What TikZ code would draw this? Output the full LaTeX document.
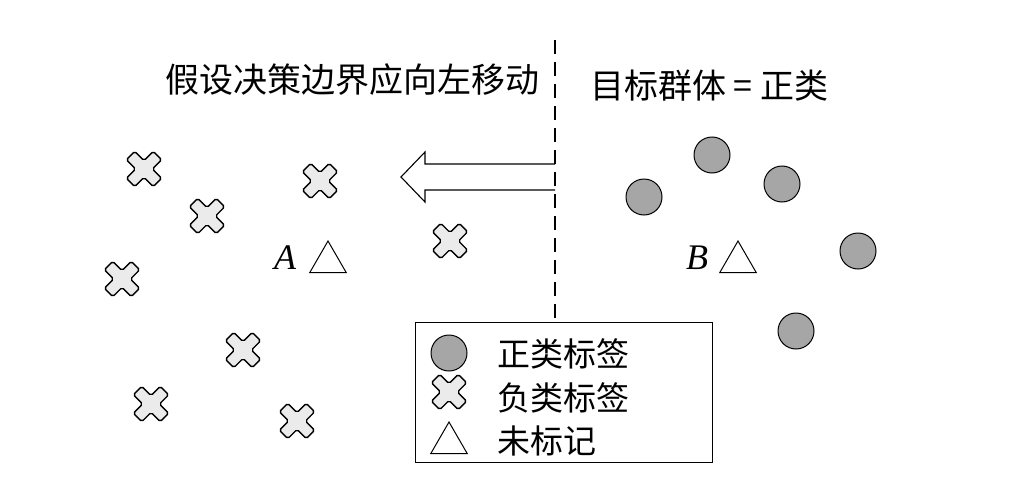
\documentclass[tikz,border=0pt]{standalone}
\usepackage{fontspec}
\setmainfont{Liberation Serif}
\newfontfamily\cjk{Noto Sans CJK SC}
\usetikzlibrary{shapes.geometric}
\begin{document}
\begin{tikzpicture}[x=1pt,y=-1pt,
  cross/.pic={\draw[line width=1.4pt,fill=black!8,rounded corners=1.8pt,rotate=45]
    (-6,-19)--(6,-19)--(6,-6)--(19,-6)--(19,6)--(6,6)--(6,19)--(-6,19)--(-6,6)--(-19,6)--(-19,-6)--(-6,-6)--cycle;},
  posn/.style={circle,draw,line width=1pt,fill=black!35,minimum size=36pt,inner sep=0},
  tri/.style={regular polygon,regular polygon sides=3,draw,line width=1pt,minimum size=42pt,inner sep=0},
  lbl/.style={font=\cjk\fontsize{33}{36}\selectfont,anchor=west,inner sep=0}]
\useasboundingbox (0,0) rectangle (1024,487);
\draw[line width=2.2pt,dash pattern=on 14pt off 8pt] (555,40) coordinate (t) -- (555,322) coordinate (bt);
\foreach \n/\x/\y in {c1/144/169,c2/320/181,c3/207/216,c4/450/241,c5/122/279,c6/243/350,c7/151/404,c8/297/421}
  \pic (\n) at (\x,\y) {cross};
\foreach \n/\x/\y in {p1/712/155,p2/644/197,p3/782/184,p4/858/251,p5/796/331}
  \node[posn] (\n) at (\x,\y) {};
\node[font=\itshape\fontsize{36}{38}\selectfont] (A) at (285,258) {A};
\node[font=\itshape\fontsize{36}{38}\selectfont] (B) at (697,258) {B};
\node[tri] (ta) at (328,262) {};
\node[tri] (tb) at (738,262) {};
\draw[line width=1.1pt] (555,164) -- (425,164) -- (425,152) -- (401,177) -- (425,202) -- (425,190) -- (555,190);
\node[font=\cjk\fontsize{34}{36}\selectfont,inner sep=0] (h1) at (352,80) {假设决策边界应向左移动};
\node[font=\cjk\fontsize{34}{36}\selectfont,anchor=west,inner sep=0] (h2) at (590,86) {目标群体 = 正类};
\node[draw,line width=1pt,fill=white,minimum width=297pt,minimum height=140pt,anchor=north west,inner sep=0] (box) at (415,322) {};
\pic (lc) at (449,392) {cross};
\node[posn] (lp) at (449,353) {};
\node[tri] (lt) at (449,443) {};
\node[lbl] (l1) at (497,354) {正类标签};
\node[lbl] (l2) at (497,398) {负类标签};
\node[lbl] (l3) at (497,441) {未标记};
\end{tikzpicture}
\end{document}
